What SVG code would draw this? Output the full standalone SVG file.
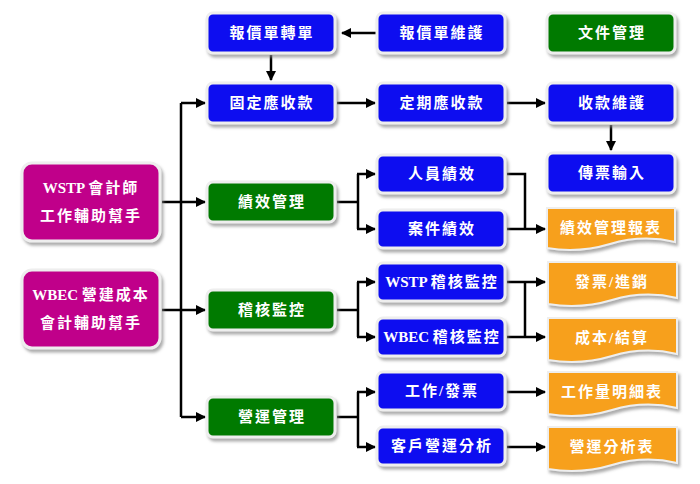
<svg xmlns="http://www.w3.org/2000/svg" width="700" height="484" viewBox="0 0 700 484">
<defs>
<filter id="sh" x="-10%" y="-10%" width="130%" height="140%">
<feDropShadow dx="2" dy="3" stdDeviation="1.5" flood-color="#888" flood-opacity="0.7"/>
</filter>
<marker id="ar" viewBox="0 0 10 10" refX="9" refY="5" markerWidth="4" markerHeight="4" orient="auto" markerUnits="strokeWidth">
<path d="M0,0 L10,5 L0,10 z" fill="#000"/>
</marker>
<style>
.b{fill:#0808f0;stroke:#eeeeee;stroke-width:3;filter:url(#sh)}
.g{fill:#067a06;stroke:#eeeeee;stroke-width:3;filter:url(#sh)}
.m{fill:#c0068a;stroke:#eeeeee;stroke-width:3;filter:url(#sh)}
.o{fill:#f7a01a;stroke:#eeeeee;stroke-width:2;filter:url(#sh)}
.t{fill:#fff;font-family:"Liberation Serif","Noto Sans CJK TC",serif;font-weight:bold;font-size:15px;text-anchor:middle;letter-spacing:2px}
.l{font-family:"Liberation Serif",serif;letter-spacing:0;font-size:15px}
.c{fill:none;stroke:#000;stroke-width:2.5}
.a{marker-end:url(#ar)}
</style>
</defs>
<rect width="700" height="484" fill="#fff"/>
<g id="connectors">
<path class="c" d="M181,103 V417"/>
<path class="c a" d="M181,103 H205"/>
<path class="c a" d="M181,417 H205"/>
<path class="c a" d="M162,202 H205"/>
<path class="c a" d="M162,310 H205"/>
<path class="c a" d="M377,33 H342"/>
<path class="c a" d="M271,55 V80"/>
<path class="c a" d="M337,103 H375"/>
<path class="c a" d="M507,103 H545"/>
<path class="c a" d="M611,125 V150"/>
<path class="c" d="M337,202 H358"/>
<path class="c" d="M358,174 V229"/>
<path class="c a" d="M357,174 H375"/>
<path class="c a" d="M357,229 H375"/>
<path class="c" d="M507,174 H525 V229"/>
<path class="c a" d="M507,229 H545"/>
<path class="c" d="M337,310 H358"/>
<path class="c" d="M358,282 V337"/>
<path class="c a" d="M357,282 H375"/>
<path class="c a" d="M357,337 H375"/>
<path class="c" d="M525,282 V337"/>
<path class="c a" d="M507,282 H545"/>
<path class="c a" d="M507,337 H545"/>
<path class="c" d="M337,417 H358"/>
<path class="c" d="M358,392 V447"/>
<path class="c a" d="M357,392 H375"/>
<path class="c a" d="M357,447 H375"/>
<path class="c a" d="M507,392 H545"/>
<path class="c a" d="M507,447 H545"/>
</g>
<g id="n-wstp"><rect class="m" x="22" y="163" width="138" height="78" rx="10"/><text class="t" x="91" y="193"><tspan class="l">WSTP </tspan>會計師</text><text class="t" x="91" y="221">工作輔助幫手</text></g>
<g id="n-wbec"><rect class="m" x="22" y="270" width="138" height="78" rx="10"/><text class="t" x="91" y="300"><tspan class="l">WBEC </tspan>營建成本</text><text class="t" x="91" y="328">會計輔助幫手</text></g>
<g id="n-quote-convert"><rect class="b" x="207" y="13" width="128" height="40" rx="6"/><text class="t" x="272" y="38">報價單轉單</text></g>
<g id="n-quote-maint"><rect class="b" x="377" y="13" width="128" height="40" rx="6"/><text class="t" x="442" y="38">報價單維護</text></g>
<g id="n-doc"><rect class="g" x="547" y="13" width="128" height="40" rx="6"/><text class="t" x="612" y="38">文件管理</text></g>
<g id="n-fixed"><rect class="b" x="207" y="83" width="128" height="40" rx="6"/><text class="t" x="272" y="108">固定應收款</text></g>
<g id="n-periodic"><rect class="b" x="377" y="83" width="128" height="40" rx="6"/><text class="t" x="442" y="108">定期應收款</text></g>
<g id="n-collect"><rect class="b" x="547" y="83" width="128" height="40" rx="6"/><text class="t" x="612" y="108">收款維護</text></g>
<g id="n-voucher"><rect class="b" x="547" y="153" width="128" height="40" rx="6"/><text class="t" x="612" y="178">傳票輸入</text></g>
<g id="n-perf"><rect class="g" x="207" y="182" width="128" height="40" rx="6"/><text class="t" x="272" y="207">績效管理</text></g>
<g id="n-audit"><rect class="g" x="207" y="290" width="128" height="40" rx="6"/><text class="t" x="272" y="315">稽核監控</text></g>
<g id="n-ops"><rect class="g" x="207" y="397" width="128" height="40" rx="6"/><text class="t" x="272" y="422">營運管理</text></g>
<g id="n-staff"><rect class="b" x="377" y="155" width="128" height="38" rx="6"/><text class="t" x="442" y="179">人員績效</text></g>
<g id="n-case"><rect class="b" x="377" y="210" width="128" height="38" rx="6"/><text class="t" x="442" y="234">案件績效</text></g>
<g id="n-wstp-audit"><rect class="b" x="377" y="263" width="128" height="38" rx="6"/><text class="t" x="442" y="287"><tspan class="l">WSTP </tspan>稽核監控</text></g>
<g id="n-wbec-audit"><rect class="b" x="377" y="318" width="128" height="38" rx="6"/><text class="t" x="442" y="342"><tspan class="l">WBEC </tspan>稽核監控</text></g>
<g id="n-work-invoice"><rect class="b" x="377" y="372" width="128" height="38" rx="6"/><text class="t" x="442" y="396">工作/發票</text></g>
<g id="n-client"><rect class="b" x="377" y="427" width="128" height="38" rx="6"/><text class="t" x="442" y="451">客戶營運分析</text></g>
<g id="n-perf-report"><path class="o" d="M547,208 H675 V242 C650,236 630,238 610,244 C590,250 570,252 547,248 Z"/><text class="t" x="611" y="233">績效管理報表</text></g>
<g id="n-inv"><path class="o" d="M548,262 H677 V298 C652,292 632,294 612,300 C592,306 572,308 548,304 Z"/><text class="t" x="612" y="287">發票/進銷</text></g>
<g id="n-cost"><path class="o" d="M548,318 H677 V354 C652,348 632,350 612,356 C592,362 572,364 548,360 Z"/><text class="t" x="612" y="343">成本/結算</text></g>
<g id="n-workload"><path class="o" d="M548,372 H677 V408 C652,402 632,404 612,410 C592,416 572,418 548,414 Z"/><text class="t" x="612" y="397">工作量明細表</text></g>
<g id="n-ops-report"><path class="o" d="M548,427 H677 V463 C652,457 632,459 612,465 C592,471 572,473 548,469 Z"/><text class="t" x="612" y="452">營運分析表</text></g>
</svg>
